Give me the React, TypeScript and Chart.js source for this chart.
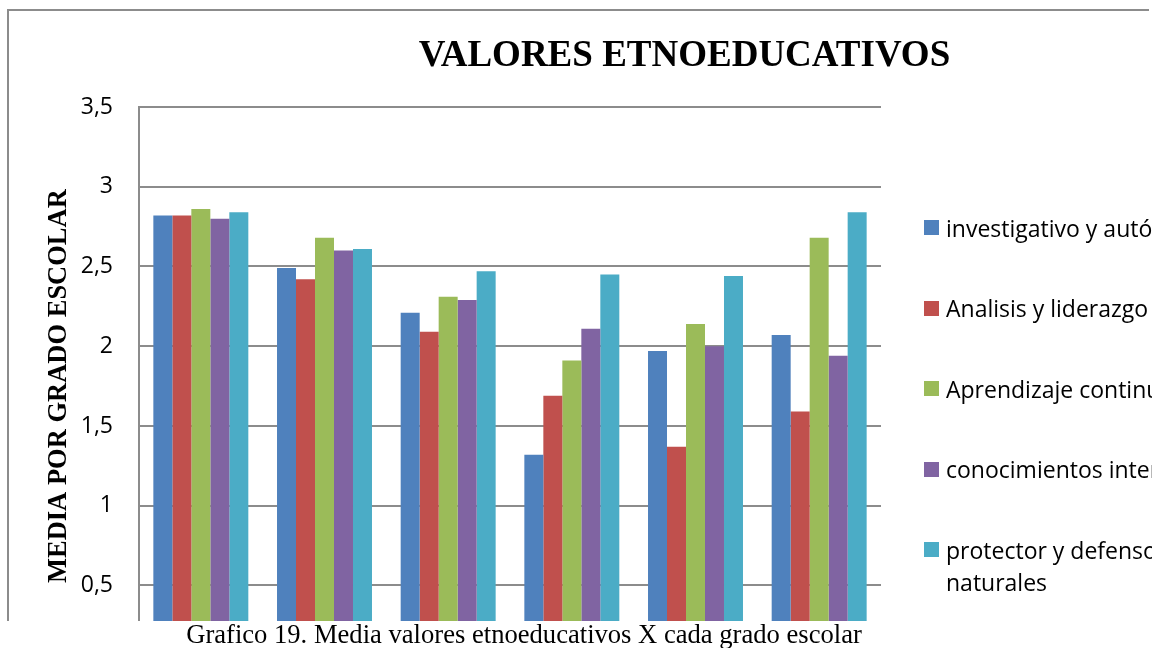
import React, { useEffect, useRef } from "react";
import { Chart, registerables } from "chart.js";

Chart.register(...registerables);

const categories = ["6°", "7°", "8°", "9°", "10°", "11°"];
const investigativo = [2.82, 2.49, 2.21, 1.32, 1.97, 2.07];
const analisis = [2.82, 2.42, 2.09, 1.69, 1.37, 1.59];
const aprendizaje = [2.86, 2.68, 2.31, 1.91, 2.14, 2.68];
const conocimientos = [2.8, 2.6, 2.29, 2.11, 2.0, 1.94];
const protector = [2.84, 2.61, 2.47, 2.45, 2.44, 2.84];

const seriesLabels: string[][] = [
  ["investigativo y autónomo"],
  ["Analisis y liderazgo"],
  ["Aprendizaje continuo"],
  ["conocimientos interculturales"],
  ["protector y defensor de los recursos", "naturales"],
];
const seriesColors = ["#4F81BD", "#C0504D", "#9BBB59", "#8064A2", "#4BACC6"];
const seriesValues = [investigativo, analisis, aprendizaje, conocimientos, protector];

const titleText = "VALORES ETNOEDUCATIVOS";
const yTitleText = "MEDIA POR GRADO ESCOLAR";
const captionText = "Grafico 19. Media valores etnoeducativos X cada grado escolar";
const yMin = 0;
const yMax = 3.5;
const yStep = 0.5;

const SANS = "'Open Sans', 'Liberation Sans', sans-serif";
const SERIF = "'Liberation Serif', 'Times New Roman', serif";
const GRID = "#8c8c8c";
const CANVAS_W = 1152;
const CANVAS_H = 705;

export default function App() {
  const ref = useRef<HTMLCanvasElement | null>(null);

  useEffect(() => {
    const canvas = ref.current;
    if (!canvas) return;
    const chart = new Chart(canvas, {
      type: "bar",
      data: {
        labels: categories,
        datasets: seriesValues.map((vals, i) => ({
          label: seriesLabels[i].join(" "),
          data: vals,
          backgroundColor: seriesColors[i],
          borderWidth: 0,
          categoryPercentage: 0.768,
          barPercentage: 1,
        })),
      },
      options: {
        animation: false,
        responsive: false,
        devicePixelRatio: 1,
        layout: { padding: { top: 107, left: 0, right: 271, bottom: 0 } },
        plugins: {
          legend: { display: false },
          title: { display: false },
          tooltip: { enabled: false },
        },
        scales: {
          x: {
            grid: { display: false, drawTicks: false },
            border: { display: false },
            ticks: { font: { family: SANS, size: 23 }, color: "#000" },
            afterFit: (s: any) => {
              s.height = 29.5;
            },
          },
          y: {
            min: yMin,
            max: yMax,
            ticks: {
              stepSize: yStep,
              padding: 26,
              color: "#000",
              font: { family: SANS, size: 23 },
              callback: (v: any) => String(v).replace(".", ","),
            },
            grid: { color: GRID, lineWidth: 2, drawTicks: false },
            border: { display: true, color: GRID, width: 2 },
            title: {
              display: true,
              text: yTitleText,
              color: "#000",
              font: { family: SERIF, size: 26.5, weight: "bold" },
              padding: { top: 43, bottom: 0 },
            },
            afterFit: (s: any) => {
              s.width = 139;
            },
          },
        },
      },
    });
    return () => chart.destroy();
  }, []);

  return (
    <div
      style={{
        position: "fixed",
        left: 0,
        top: 0,
        width: 1152,
        height: 648,
        overflow: "hidden",
        background: "#fff",
      }}
    >
      <div
        style={{
          position: "absolute",
          left: 7,
          top: 9,
          width: 1140,
          height: 700,
          borderTop: `2px solid ${GRID}`,
          borderLeft: `2px solid ${GRID}`,
        }}
      />
      <canvas
        ref={ref}
        width={CANVAS_W}
        height={CANVAS_H}
        style={{ position: "absolute", left: 0, top: 0, width: CANVAS_W, height: CANVAS_H }}
      />
      <div
        style={{
          position: "absolute",
          left: 684.5,
          top: 35,
          transform: "translateX(-50%)",
          fontFamily: SERIF,
          fontWeight: "bold",
          fontSize: 37,
          lineHeight: "37px",
          whiteSpace: "nowrap",
          color: "#000",
        }}
      >
        {titleText}
      </div>
      {seriesLabels.map((lines, i) => (
        <div
          key={i}
          style={{
            position: "absolute",
            left: 924,
            top: 211.5 + i * 80.5,
            whiteSpace: "nowrap",
            fontFamily: SANS,
            fontSize: 23,
            lineHeight: "32px",
            color: "#000",
          }}
        >
          <span
            style={{
              position: "absolute",
              left: 0,
              top: 8.5,
              width: 15,
              height: 15,
              background: seriesColors[i],
            }}
          />
          <div style={{ marginLeft: 22 }}>
            {lines.map((l, j) => (
              <div key={j}>{l}</div>
            ))}
          </div>
        </div>
      ))}
      <div
        style={{
          position: "absolute",
          left: 0,
          top: 621,
          width: 1152,
          height: 27,
          background: "#fff",
        }}
      />
      <div
        style={{
          position: "absolute",
          left: 524,
          top: 621,
          transform: "translateX(-50%)",
          fontFamily: SERIF,
          fontSize: 26.6,
          lineHeight: "26px",
          whiteSpace: "nowrap",
          color: "#000",
        }}
      >
        {captionText}
      </div>
    </div>
  );
}
